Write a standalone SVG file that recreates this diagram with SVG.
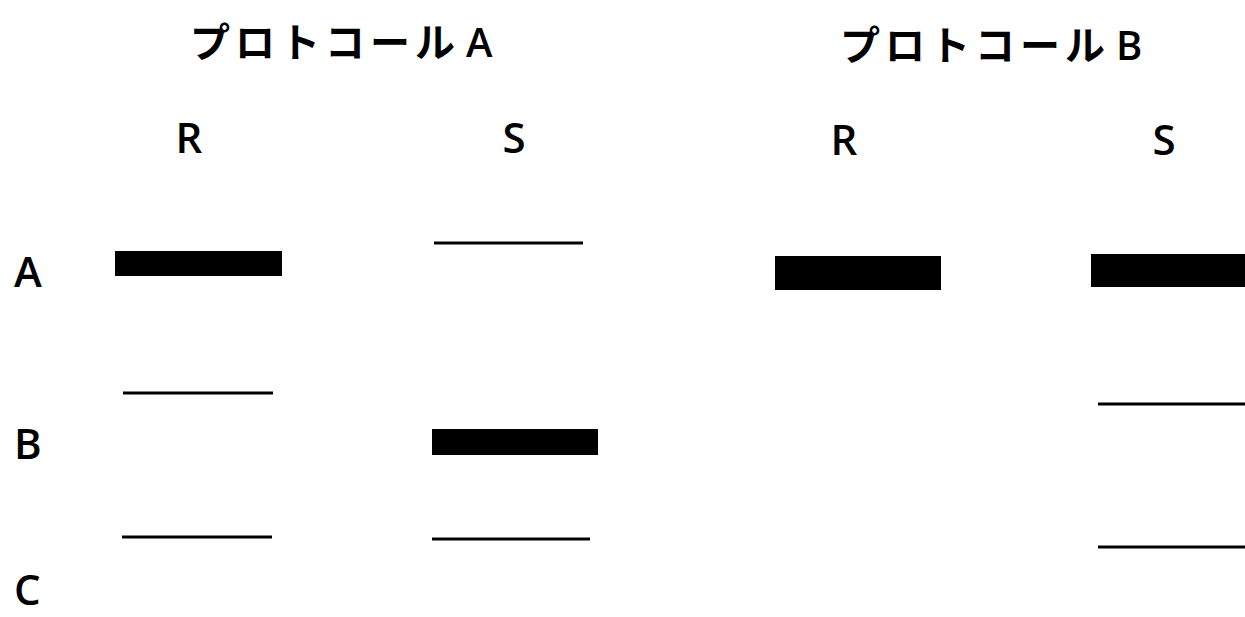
<svg xmlns="http://www.w3.org/2000/svg" width="1245" height="617" viewBox="0 0 1245 617">
<style>
.title{font-family:"Noto Sans CJK JP","Noto Sans",sans-serif;font-size:40px;font-weight:bold;fill:#000;letter-spacing:5px}
.tl{font-family:"Open Sans","Noto Sans",sans-serif;font-weight:600}
.lab{font-family:"Open Sans","Noto Sans",sans-serif;font-size:42px;font-weight:600;fill:#000}
.band{fill:#000}
.line{stroke:#000;stroke-width:3}
</style>
<rect width="1245" height="617" fill="#fff"/>
<g id="titles">
<text class="title" x="190" y="57">プロトコール<tspan class="tl" dx="6">A</tspan></text>
<text class="title" x="840" y="60">プロトコール<tspan class="tl" dx="6">B</tspan></text>
</g>
<g id="columns" text-anchor="middle">
<text class="lab" x="189" y="153">R</text>
<text class="lab" x="514" y="153">S</text>
<text class="lab" x="844" y="155">R</text>
<text class="lab" x="1164" y="155">S</text>
</g>
<g id="rows">
<text class="lab" x="14" y="287">A</text>
<text class="lab" x="14" y="459">B</text>
<text class="lab" x="14" y="605">C</text>
</g>
<g id="protocolA">
<rect class="band" x="115" y="251" width="167" height="25"/>
<line class="line" x1="434" y1="243" x2="583" y2="243"/>
<line class="line" x1="123" y1="393" x2="273" y2="393"/>
<rect class="band" x="432" y="429" width="166" height="26"/>
<line class="line" x1="122" y1="537" x2="272" y2="537"/>
<line class="line" x1="432" y1="539" x2="590" y2="539"/>
</g>
<g id="protocolB">
<rect class="band" x="775" y="256" width="166" height="34"/>
<rect class="band" x="1091" y="254" width="154" height="33"/>
<line class="line" x1="1098" y1="404" x2="1245" y2="404"/>
<line class="line" x1="1098" y1="547" x2="1245" y2="547"/>
</g>
</svg>
